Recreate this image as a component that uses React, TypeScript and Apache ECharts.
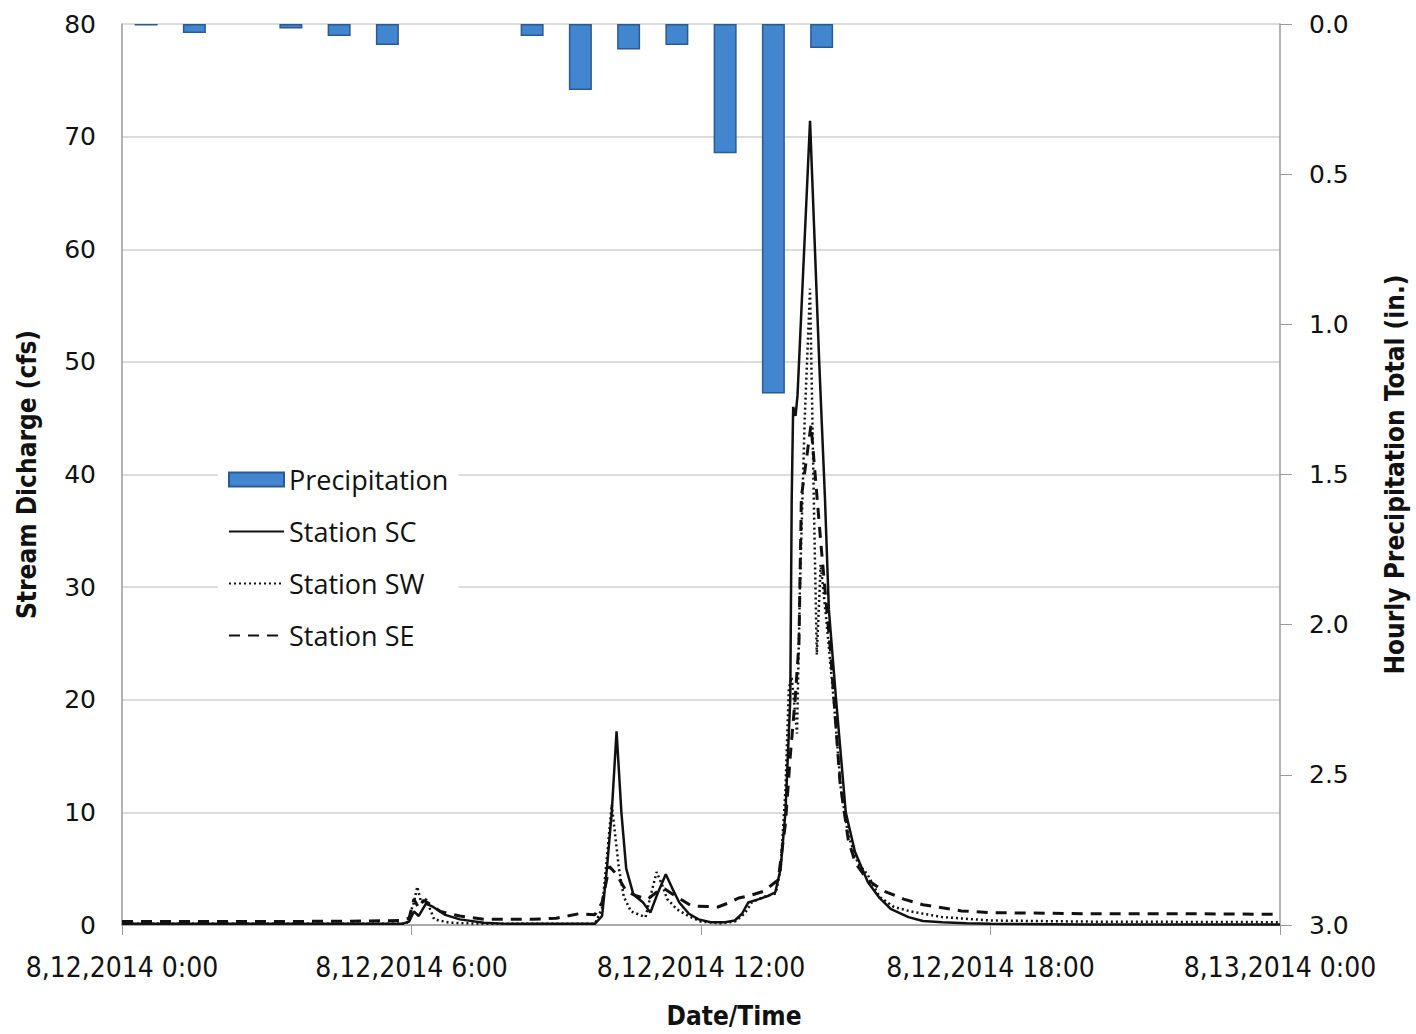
import React, { useEffect, useRef } from "react";
import * as echarts from "echarts";

// Hourly precipitation totals (inches), bar centred on half-hour
const precipHours = [0.5, 1.5, 3.5, 4.5, 5.5, 8.5, 9.5, 10.5, 11.5, 12.5, 13.5, 14.5];
const precipValues = [0.005, 0.03, 0.015, 0.04, 0.07, 0.04, 0.22, 0.085, 0.07, 0.43, 1.23, 0.08];

// Stream discharge (cfs): [hour of 8/12/2014, value]
const stationSC: [number, number][] = [
  [0, 0.1], [2, 0.1], [4, 0.1], [5.8, 0.1], [5.95, 0.3], [6.05, 1.2], [6.15, 0.8], [6.3, 1.9], [6.45, 1.6],
  [6.7, 0.9], [7, 0.5], [7.5, 0.2], [8, 0.1], [9.8, 0.1], [9.95, 0.8], [10.05, 5], [10.15, 10], [10.25, 17.2],
  [10.35, 10], [10.45, 5], [10.6, 2.7], [10.8, 2], [10.95, 1.1], [11.1, 2.8], [11.27, 4.5], [11.4, 3.3],
  [11.55, 2.0], [11.75, 1.0], [11.95, 0.5], [12.2, 0.25], [12.5, 0.25], [12.7, 0.4], [12.85, 1.0], [12.98, 2.0],
  [13.2, 2.3], [13.4, 2.6], [13.54, 2.9], [13.65, 5], [13.75, 10], [13.85, 20], [13.88, 37.8], [13.91, 46],
  [13.96, 45.2], [14.0, 47], [14.26, 71.4], [14.45, 50], [14.57, 37.8], [14.65, 28], [14.8, 20], [15.0, 10],
  [15.19, 6.5], [15.46, 3.8], [15.7, 2.4], [15.94, 1.4], [16.3, 0.7], [16.6, 0.35], [17, 0.25], [17.5, 0.15],
  [18, 0.1], [20, 0.05], [24, 0.05],
];
const stationSW: [number, number][] = [
  [0, 0.1], [3, 0.1], [5.9, 0.1], [6.05, 2.0], [6.12, 3.4], [6.2, 2.0], [6.3, 2.3], [6.47, 0.5], [6.8, 0.2],
  [7.5, 0.1], [9.8, 0.1], [9.95, 1.5], [10.05, 6], [10.15, 10.7], [10.3, 5], [10.4, 2.5], [10.55, 1.2],
  [10.85, 0.7], [10.95, 2.5], [11.08, 4.7], [11.2, 3.5], [11.3, 2.3], [11.5, 1.4], [11.74, 0.8], [12.0, 0.3],
  [12.4, 0.15], [12.7, 0.3], [12.9, 1.0], [13.05, 2.0], [13.3, 2.5], [13.55, 2.8], [13.65, 5], [13.75, 12],
  [13.82, 21], [13.88, 22], [13.99, 17], [14.05, 30], [14.15, 45], [14.26, 56.5], [14.35, 35], [14.4, 24],
  [14.48, 32], [14.6, 27], [14.75, 20], [14.9, 12], [15.05, 8], [15.25, 5.5], [15.45, 4.5], [15.7, 2.5],
  [16.0, 1.6], [16.35, 1.2], [17, 0.7], [18, 0.4], [20, 0.3], [24, 0.25],
];
const stationSE: [number, number][] = [
  [0, 0.3], [3, 0.3], [5, 0.35], [5.8, 0.4], [5.95, 0.6], [6.05, 2.3], [6.15, 1.5], [6.25, 2.2], [6.4, 1.8],
  [6.6, 1.2], [7, 0.8], [7.5, 0.5], [8.5, 0.5], [9.0, 0.6], [9.47, 1.0], [9.8, 0.9], [9.95, 2], [10.1, 5.2],
  [10.25, 4.5], [10.45, 3], [10.65, 2.6], [10.9, 2.3], [11.1, 3.0], [11.25, 3.2], [11.5, 2.5], [11.8, 1.7],
  [12.35, 1.6], [12.6, 2.0], [12.78, 2.4], [13.0, 2.6], [13.3, 3], [13.6, 4], [13.75, 9], [13.85, 15],
  [13.95, 20], [14.03, 25], [14.08, 38], [14.28, 44.4], [14.49, 33.6], [14.68, 24.5], [14.88, 12.7],
  [15.05, 7.6], [15.2, 5.5], [15.45, 4], [15.8, 3], [16.2, 2.3], [16.6, 1.8], [17.4, 1.25], [18, 1.1],
  [20, 1.0], [22, 1.0], [24, 0.95],
];

const xTickLabels = ["8,12,2014 0:00", "8,12,2014 6:00", "8,12,2014 12:00", "8,12,2014 18:00", "8,13,2014 0:00"];

const narrow = "'Liberation Sans Narrow', 'DejaVu Sans Condensed', 'Open Sans', sans-serif";
const hiddenSymbol = { opacity: 0 };

export default function App() {
  const ref = useRef<HTMLDivElement>(null);
  useEffect(() => {
    if (!ref.current) return;
    document.body.style.margin = "0";
    document.body.style.overflow = "hidden";
    const chart = echarts.init(ref.current, null, { renderer: "svg" });
    chart.setOption({
      animation: false,
      backgroundColor: "#ffffff",
      grid: { left: 122, right: 133, top: 24, bottom: 108, containLabel: false },
      legend: {
        orient: "vertical",
        left: 218,
        top: 458,
        padding: [8, 10, 8, 10],
        backgroundColor: "#ffffff",
        itemWidth: 55,
        itemHeight: 14,
        itemGap: 25,
        textStyle: { fontFamily: "'Open Sans', sans-serif", fontSize: 27, color: "#111" },
        data: [
          { name: "Precipitation", icon: "rect" },
          { name: "Station SC", itemStyle: hiddenSymbol },
          { name: "Station SW", itemStyle: hiddenSymbol },
          { name: "Station SE", itemStyle: hiddenSymbol },
        ],
      },
      xAxis: {
        type: "value",
        min: 0,
        max: 24,
        interval: 6,
        name: "Date/Time",
        nameLocation: "middle",
        nameGap: 78,
        nameTextStyle: {
          fontFamily: narrow,
          fontWeight: "bold",
          fontSize: 26,
          color: "#111",
          padding: [0, 0, 0, 66],
        },
        axisLine: { show: true, lineStyle: { color: "#9a9a9a", width: 1.5 } },
        axisTick: { show: true, length: 10, lineStyle: { color: "#9a9a9a" } },
        splitLine: { show: false },
        axisLabel: {
          margin: 28,
          fontFamily: narrow,
          fontSize: 28,
          color: "#111",
          formatter: (v: number) => xTickLabels[Math.round(v / 6)] ?? "",
        },
      },
      yAxis: [
        {
          type: "value",
          min: 0,
          max: 80,
          interval: 10,
          name: "Stream Dicharge (cfs)",
          nameLocation: "middle",
          nameRotate: 90,
          nameGap: 82,
          nameTextStyle: { fontFamily: narrow, fontWeight: "bold", fontSize: 26, color: "#111" },
          axisLine: { show: true, lineStyle: { color: "#9a9a9a", width: 1.5 } },
          axisTick: { show: false },
          splitLine: { show: true, lineStyle: { color: "#d0d0d0", width: 1.5 } },
          axisLabel: { margin: 26, fontFamily: "'DejaVu Sans', sans-serif", fontSize: 25, color: "#111" },
        },
        {
          type: "value",
          min: 0,
          max: 3,
          interval: 0.5,
          inverse: true,
          position: "right",
          name: "Hourly Precipitation Total (in.)",
          nameLocation: "middle",
          nameRotate: 90,
          nameGap: 102,
          nameTextStyle: { fontFamily: narrow, fontWeight: "bold", fontSize: 26, color: "#111" },
          axisLine: { show: true, lineStyle: { color: "#9a9a9a", width: 1.5 } },
          axisTick: { show: true, length: 12, lineStyle: { color: "#9a9a9a" } },
          splitLine: { show: false },
          axisLabel: {
            margin: 29,
            fontFamily: "'DejaVu Sans', sans-serif",
            fontSize: 25,
            color: "#111",
            formatter: (v: number) => v.toFixed(1),
          },
        },
      ],
      series: [
        {
          name: "Precipitation",
          type: "bar",
          xAxisIndex: 0,
          yAxisIndex: 1,
          barWidth: 23,
          data: precipHours.map((h, i) => [h, precipValues[i]]),
          itemStyle: { color: "#4286cf", borderColor: "#2b5a93", borderWidth: 1.5 },
          z: 1,
        },
        {
          name: "Station SC",
          type: "line",
          yAxisIndex: 0,
          symbol: "none",
          data: stationSC,
          lineStyle: { color: "#111", width: 2.5, type: "solid" },
          itemStyle: { color: "#111" },
          z: 3,
        },
        {
          name: "Station SW",
          type: "line",
          yAxisIndex: 0,
          symbol: "none",
          data: stationSW,
          lineStyle: { color: "#111", width: 2.5, type: [2, 3] },
          itemStyle: { color: "#111" },
          z: 3,
        },
        {
          name: "Station SE",
          type: "line",
          yAxisIndex: 0,
          symbol: "none",
          data: stationSE,
          lineStyle: { color: "#111", width: 3, type: [11, 8] },
          itemStyle: { color: "#111" },
          z: 3,
        },
      ],
    });
    return () => chart.dispose();
  }, []);
  return (
    <div
      ref={ref}
      style={{
        position: "absolute",
        left: 0,
        top: 0,
        width: 1416,
        height: 1034,
        overflow: "hidden",
        background: "#fff",
      }}
    />
  );
}
